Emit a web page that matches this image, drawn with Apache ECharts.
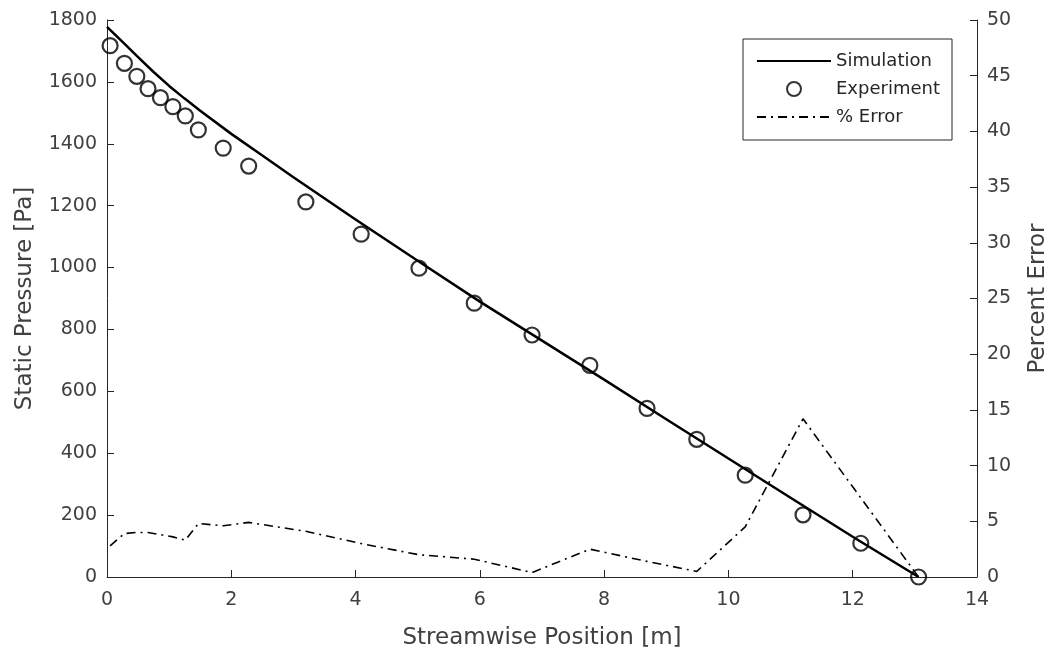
<!DOCTYPE html>
<html>
<head>
<meta charset="utf-8">
<script src="https://cdn.jsdelivr.net/npm/echarts@6/dist/echarts.min.js"></script>
<style>
html,body{margin:0;padding:0;background:#fff;}
#chart{width:1052px;height:656px;}
</style>
</head>
<body>
<div id="chart"></div>
<script>
// Simulation curve (x [m], static pressure [Pa])
var simX = [0, 0.25, 0.5, 0.75, 1.0, 1.25, 1.5, 2.0, 2.5, 3.0, 4.0, 5.0, 6.0, 7.0, 8.0, 9.0, 10.0, 11.0, 12.0, 13.06];
var simP = [1778, 1729, 1680, 1632, 1587, 1546, 1507, 1432, 1362, 1292, 1155, 1022, 890, 764, 638, 510, 383, 256, 130, 0];

// Experiment points
var expX = [0.05, 0.28, 0.48, 0.66, 0.86, 1.06, 1.26, 1.47, 1.87, 2.28, 3.20, 4.09, 5.02, 5.91, 6.84, 7.77, 8.69, 9.49, 10.27, 11.20, 12.13, 13.06];
var expP = [1717, 1660, 1618, 1578, 1549, 1520, 1490, 1445, 1386, 1328, 1212, 1108, 998, 885, 782, 684, 545, 445, 329, 201, 109, 0];

// Percent error at experiment positions
var errV = [2.8, 3.9, 4.0, 4.0, 3.8, 3.6, 3.3, 4.8, 4.6, 4.9, 4.1, 3.0, 2.0, 1.6, 0.4, 2.5, 1.4, 0.5, 4.5, 14.2, 7.1, 0];

function pairs(xs, ys){ return xs.map(function(x,i){ return [x, ys[i]]; }); }

var axisColor = '#262626';
var labelColor = '#404040';
var fontFam = '"DejaVu Sans", "Liberation Sans", Arial, sans-serif';
var plain = function(v){ return String(v); };

var chart = echarts.init(document.getElementById('chart'));
chart.setOption({
  animation: false,
  backgroundColor: '#fff',
  textStyle: { fontFamily: fontFam },
  grid: { left: 107, right: 75, top: 20, bottom: 79, containLabel: false, outerBoundsMode: 'none' },
  legend: {
    orient: 'vertical',
    left: 743, top: 39,
    backgroundColor: '#fff',
    borderColor: axisColor, borderWidth: 1, borderRadius: 0,
    padding: [13, 12, 14, 13],
    itemGap: 10,
    itemWidth: 74, itemHeight: 14,
    textStyle: { fontSize: 18, color: '#262626', fontFamily: fontFam },
    data: [
      { name: 'Simulation', itemStyle: { opacity: 0 } },
      { name: 'Experiment' },
      { name: '% Error', itemStyle: { opacity: 0 } }
    ]
  },
  xAxis: {
    type: 'value', min: 0, max: 14, interval: 2,
    name: 'Streamwise Position [m]', nameLocation: 'middle', nameGap: 50,
    nameTextStyle: { fontSize: 23, color: labelColor, fontFamily: fontFam },
    axisLine: { show: true, onZero: false, lineStyle: { color: axisColor, width: 1 } },
    axisTick: { show: true, inside: true, length: 7, lineStyle: { color: axisColor } },
    axisLabel: { fontSize: 19, color: labelColor, margin: 14, formatter: plain },
    splitLine: { show: false }
  },
  yAxis: [
    {
      type: 'value', min: 0, max: 1800, interval: 200, position: 'left',
      name: 'Static Pressure [Pa]', nameLocation: 'middle', nameGap: 70, nameRotate: 90,
      nameTextStyle: { fontSize: 23, color: labelColor, fontFamily: fontFam },
      axisLine: { show: true, lineStyle: { color: axisColor, width: 1 } },
      axisTick: { show: true, inside: true, length: 7, lineStyle: { color: axisColor } },
      axisLabel: { fontSize: 19, color: labelColor, margin: 10, formatter: plain },
      splitLine: { show: false }
    },
    {
      type: 'value', min: 0, max: 50, interval: 5, position: 'right',
      name: 'Percent Error', nameLocation: 'middle', nameGap: 50, nameRotate: 90,
      nameTextStyle: { fontSize: 23, color: labelColor, fontFamily: fontFam },
      axisLine: { show: true, lineStyle: { color: axisColor, width: 1 } },
      axisTick: { show: true, inside: true, length: 7, lineStyle: { color: axisColor } },
      axisLabel: { fontSize: 19, color: labelColor, margin: 10, formatter: plain },
      splitLine: { show: false }
    }
  ],
  series: [
    {
      name: 'Simulation', type: 'line', yAxisIndex: 0,
      data: pairs(simX, simP), smooth: false, showSymbol: false, symbol: 'none',
      lineStyle: { color: '#000', width: 2.5, join: 'round' },
      itemStyle: { color: '#000' }, z: 3
    },
    {
      name: 'Experiment', type: 'scatter', yAxisIndex: 0,
      data: pairs(expX, expP), symbol: 'circle', symbolSize: 15,
      itemStyle: { color: 'rgba(255,255,255,0)', borderColor: '#000', borderWidth: 2.2 }, z: 4
    },
    {
      name: '% Error', type: 'line', yAxisIndex: 1,
      data: pairs(expX, errV), showSymbol: false, symbol: 'none',
      lineStyle: { color: '#000', width: 1.6, type: [9, 5, 2, 5] },
      itemStyle: { color: '#000' }, z: 2
    }
  ]
});
</script>
</body>
</html>
